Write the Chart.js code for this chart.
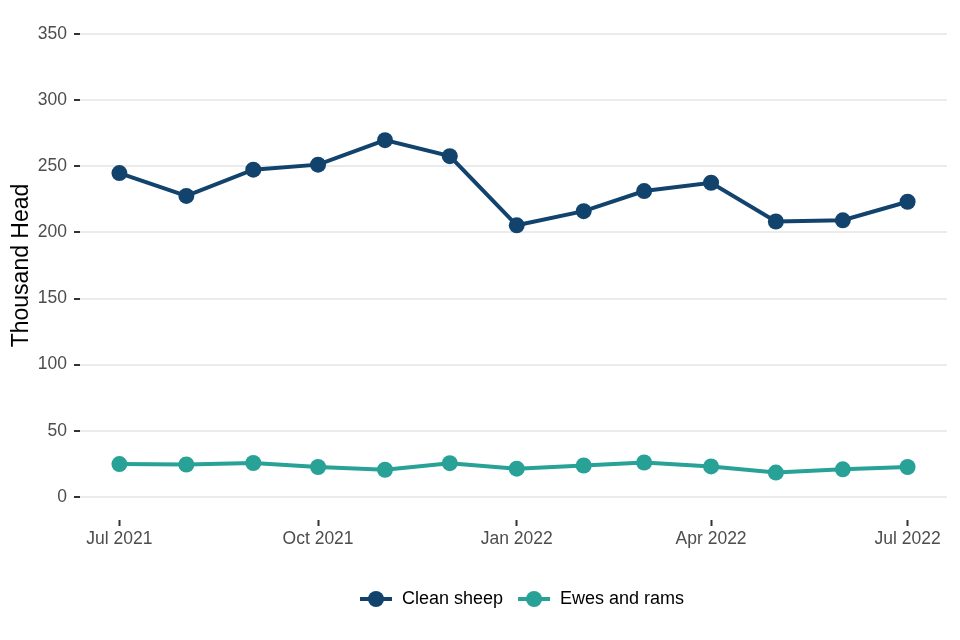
<!DOCTYPE html>
<html>
<head>
<meta charset="utf-8">
<script src="https://cdn.jsdelivr.net/npm/chart.js@4"></script>
<style>
  html, body { margin: 0; padding: 0; background: #fff; }
  #wrap { width: 960px; height: 640px; }
</style>
</head>
<body>
<div id="wrap"><canvas id="sheepChart" width="960" height="640"></canvas></div>
<script>
// Monthly slaughter, thousand head
const months = ['2021-07-01', '2021-08-01', '2021-09-01', '2021-10-01', '2021-11-01', '2021-12-01',
  '2022-01-01', '2022-02-01', '2022-03-01', '2022-04-01', '2022-05-01', '2022-06-01', '2022-07-01'];
const cleanSheep = [244.9, 227.6, 247.5, 251.3, 269.8, 257.7, 205.4, 216.1, 231.3, 237.6, 208.3, 209.2, 223.2];
const ewesAndRams = [24.8, 24.5, 25.6, 22.6, 20.5, 25.5, 21.3, 23.7, 26.0, 23.0, 18.4, 20.8, 22.6];

const xTickDates = ['2021-07-01', '2021-10-01', '2022-01-01', '2022-04-01', '2022-07-01'];
const xTickLabels = ['Jul 2021', 'Oct 2021', 'Jan 2022', 'Apr 2022', 'Jul 2022'];
const yTicks = [0, 50, 100, 150, 200, 250, 300, 350];

const NAVY = '#12436D';
const TEAL = '#28A197';

// days since first month, so the x axis keeps real month lengths
const origin = Date.parse(months[0]);
const dayOf = d => (Date.parse(d) - origin) / 86400000;

function toPoints(values) {
  return values.map((v, i) => ({ x: dayOf(months[i]), y: v }));
}

// legend key: short line with a dot in the middle
function legendKey(color) {
  const c = document.createElement('canvas');
  c.width = 34; c.height = 20;
  const g = c.getContext('2d');
  g.strokeStyle = color;
  g.lineWidth = 4;
  g.beginPath(); g.moveTo(1, 10); g.lineTo(33, 10); g.stroke();
  g.fillStyle = color;
  g.beginPath(); g.arc(17, 10, 8, 0, Math.PI * 2); g.fill();
  return c;
}

// legend is centred on the plot panel, not on the canvas
const shiftLegend = {
  id: 'shiftLegend',
  afterLayout(chart) {
    const lg = chart.legend;
    if (!lg) return;
    const panelMid = (chart.chartArea.left + chart.chartArea.right) / 2;
    const dx = panelMid + 8 - (lg.left + lg.right) / 2;
    lg.left += dx;
    lg.right += dx;
  }
};

const span = dayOf(months[months.length - 1]);

new Chart(document.getElementById('sheepChart').getContext('2d'), {
  type: 'line',
  data: {
    datasets: [
      {
        label: 'Clean sheep',
        data: toPoints(cleanSheep),
        borderColor: NAVY,
        backgroundColor: NAVY,
        borderWidth: 4,
        pointRadius: 8,
        pointHoverRadius: 8,
        pointBorderWidth: 0,
        pointStyle: 'circle',
        tension: 0
      },
      {
        label: 'Ewes and rams',
        data: toPoints(ewesAndRams),
        borderColor: TEAL,
        backgroundColor: TEAL,
        borderWidth: 4,
        pointRadius: 8,
        pointHoverRadius: 8,
        pointBorderWidth: 0,
        pointStyle: 'circle',
        tension: 0
      }
    ]
  },
  plugins: [shiftLegend],
  options: {
    responsive: false,
    animation: false,
    layout: { padding: { top: 11, right: 13, left: 0, bottom: 22 } },
    scales: {
      x: {
        type: 'linear',
        min: -span * 0.05,
        max: span * 1.05,
        afterBuildTicks: scale => {
          scale.ticks = xTickDates.map(d => ({ value: dayOf(d) }));
        },
        afterFit: scale => {
          scale.height = 56;
          scale.paddingLeft = 0;
          scale.paddingRight = 0;
        },
        border: { display: false },
        grid: {
          drawOnChartArea: false,
          drawTicks: true,
          tickLength: 6,
          tickColor: '#333333',
          tickWidth: 2
        },
        ticks: {
          autoSkip: false,
          maxRotation: 0,
          padding: 3,
          color: '#4d4d4d',
          font: { family: 'Liberation Sans', size: 17.5 },
          callback: (value) => {
            const i = xTickDates.findIndex(d => dayOf(d) === value);
            return i >= 0 ? xTickLabels[i] : '';
          }
        }
      },
      y: {
        min: -17.5,
        max: 367.5,
        afterBuildTicks: scale => {
          scale.ticks = yTicks.map(v => ({ value: v }));
        },
        afterFit: scale => {
          scale.width = 80;
          scale.paddingTop = 0;
          scale.paddingBottom = 0;
        },
        border: { display: false },
        grid: {
          color: '#ebebeb',
          lineWidth: 2,
          tickLength: 6,
          tickColor: '#333333',
          tickWidth: 2
        },
        ticks: {
          padding: 7,
          color: '#4d4d4d',
          font: { family: 'Liberation Sans', size: 17.5 }
        },
        title: {
          display: true,
          text: 'Thousand Head',
          color: '#000000',
          padding: { top: 8, bottom: 0 },
          font: { family: 'Liberation Sans', size: 23 }
        }
      }
    },
    plugins: {
      legend: {
        position: 'bottom',
        labels: {
          color: '#000000',
          font: { family: 'Liberation Sans', size: 18 },
          usePointStyle: true,
          pointStyleWidth: 34,
          boxHeight: 18,
          padding: 14,
          generateLabels: chart => chart.data.datasets.map((ds, i) => ({
            text: ds.label,
            pointStyle: legendKey(ds.borderColor),
            fillStyle: ds.borderColor,
            strokeStyle: ds.borderColor,
            lineWidth: 0,
            fontColor: '#000000',
            datasetIndex: i,
            hidden: false
          }))
        }
      },
      title: { display: false },
      tooltip: { enabled: false }
    }
  }
});
</script>
</body>
</html>
